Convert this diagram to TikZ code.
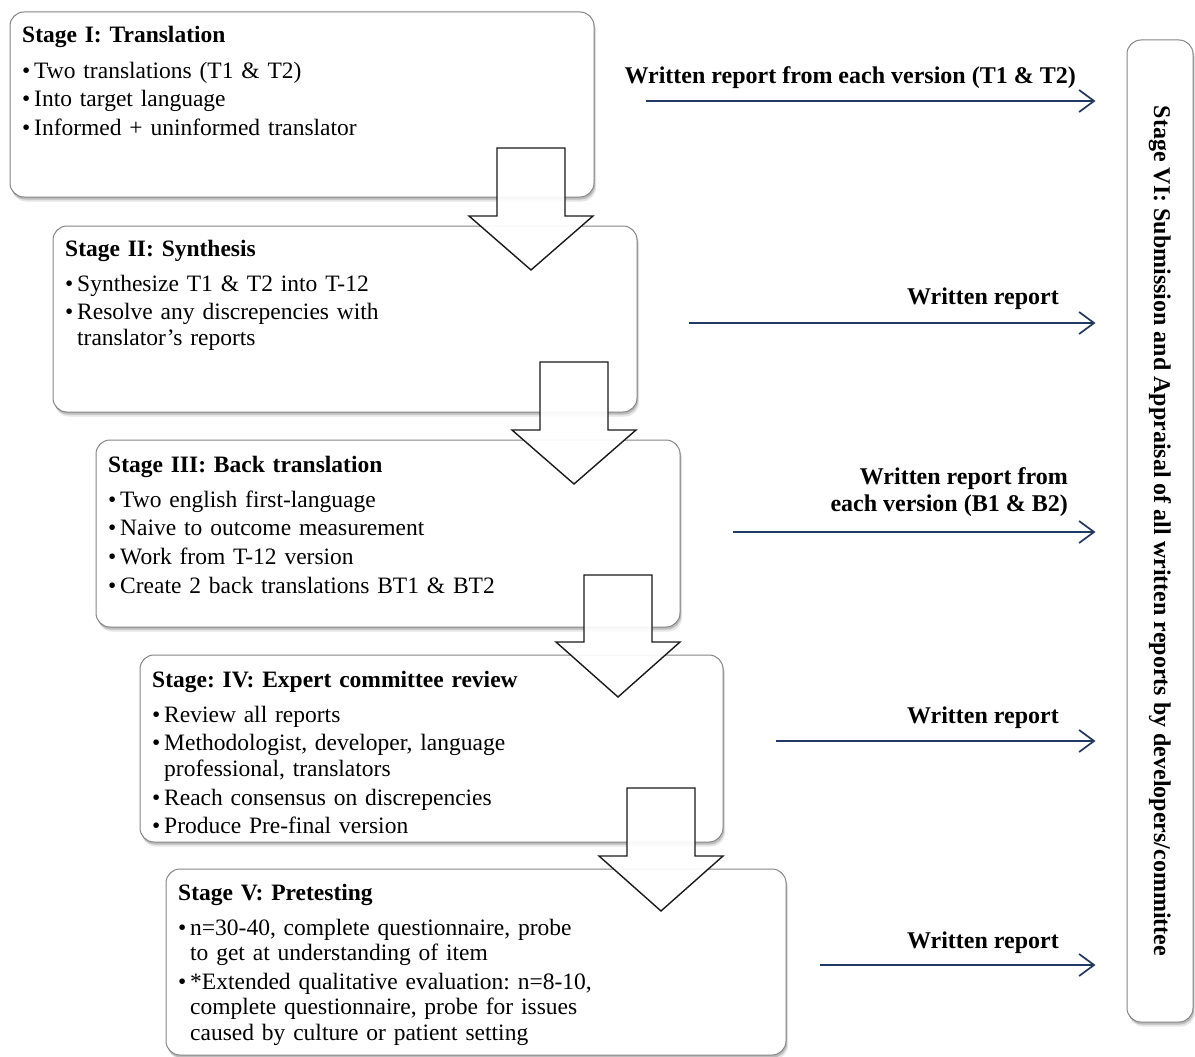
\documentclass[tikz,border=0pt]{standalone}
\usepackage{fontspec}
\setmainfont{Liberation Serif}
\usepackage{tikz}
\usetikzlibrary{
arrows.meta,
positioning,
shadows
}
\definecolor{StageGray}{HTML}{858585}
\definecolor{StageLine}{HTML}{1A1A1A}
\definecolor{ReportNavy}{HTML}{1F3864}

\frenchspacing
\newcommand{\stagehead}[1]{{\bfseries #1}\par\vspace{6.5pt}}
\newcommand{\stageitem}[1]{\par\vspace{3.2pt}{\hangindent=12pt\hangafter=1\noindent\makebox[12pt][l]{\textbullet}#1\par}}

\tikzset{
stagebox/.style={draw=StageGray, line width=1pt, fill=white, rounded corners=14pt, inner sep=0pt,
  general shadow={fill=black, opacity=0.10, shadow xshift=2pt, shadow yshift=-4.5pt},
  general shadow={fill=black, opacity=0.18, shadow xshift=1pt, shadow yshift=-2.5pt}},
stagetext/.style={anchor=base west, inner sep=0pt, text width=560pt, align=left,
  font=\fontsize{23.5}{25.5}\selectfont},
blockarrow/.style={draw=StageLine, line width=1.4pt, fill=white, fill opacity=0.92, line join=miter},
reportarrow/.style={draw=ReportNavy, line width=1.7pt, -{Straight Barb[length=15pt,width=22pt,line width=1.7pt]}},
reportlabel/.style={font=\fontsize{24}{27}\selectfont\bfseries, align=right, anchor=base east, inner sep=0pt}
}

\begin{document}
\begin{tikzpicture}[x=1pt,y=-1pt]
\useasboundingbox (0,0) rectangle (1195,1057);

\node[stagebox, minimum width=584pt, minimum height=185pt] (s1) at (302,104.5) {};
\node[stagebox, minimum width=584pt, minimum height=186pt] (s2) at (345,319) {};
\node[stagebox, minimum width=584pt, minimum height=187pt] (s3) at (388,533.5) {};
\node[stagebox, minimum width=583pt, minimum height=187pt] (s4) at (431.5,748.5) {};
\node[stagebox, minimum width=620pt, minimum height=186pt] (s5) at (476,962) {};
\node[stagebox, minimum width=66pt, minimum height=982pt] (s6) at (1160,531) {};

\node[stagetext] (t1) at (22,43) {\stagehead{Stage I: Translation}
\stageitem{Two translations (T1 \& T2)}
\stageitem{Into target language}
\stageitem{Informed + uninformed translator}};
\node[stagetext] (t2) at (65,256) {\stagehead{Stage II: Synthesis}
\stageitem{Synthesize T1 \& T2 into T-12}
\stageitem{Resolve any discrepencies with\newline translator's reports}};
\node[stagetext] (t3) at (108,472) {\stagehead{Stage III: Back translation}
\stageitem{Two english first-language}
\stageitem{Naive to outcome measurement}
\stageitem{Work from T-12 version}
\stageitem{Create 2 back translations BT1 \& BT2}};
\node[stagetext] (t4) at (152,687) {\stagehead{Stage: IV: Expert committee review}
\stageitem{Review all reports}
\stageitem{Methodologist, developer, language\newline professional, translators}
\stageitem{Reach consensus on discrepencies}
\stageitem{Produce Pre-final version}};
\node[stagetext] (t5) at (178,900) {\stagehead{Stage V: Pretesting}
\stageitem{n=30-40, complete questionnaire, probe\newline to get at understanding of item}
\stageitem{*Extended qualitative evaluation: n=8-10,\newline complete questionnaire, probe for issues\newline caused by culture or patient setting}};
\node[font=\fontsize{24}{27}\selectfont\bfseries, rotate=-90, inner sep=0pt] (t6) at (s6.center)
  {Stage VI: Submission and Appraisal of all written reports by developers/committee};

\draw[blockarrow] (497,148) -- (565,148) -- (565,216) -- (593,216) -- (531,270) -- (469,216) -- (497,216) -- cycle;
\draw[blockarrow] (540,362) -- (608,362) -- (608,430) -- (636,430) -- (574,484) -- (512,430) -- (540,430) -- cycle;
\draw[blockarrow] (584,575) -- (652,575) -- (652,642) -- (680,642) -- (618,697) -- (556,642) -- (584,642) -- cycle;
\draw[blockarrow] (627,788) -- (695,788) -- (695,856) -- (723,856) -- (661,911) -- (599,856) -- (627,856) -- cycle;

\coordinate (r1a) at (646,101);
\coordinate (r1b) at (s6.west |- r1a);
\coordinate (r2a) at (689,323);
\coordinate (r2b) at (s6.west |- r2a);
\coordinate (r3a) at (733,532);
\coordinate (r3b) at (s6.west |- r3a);
\coordinate (r4a) at (776,741);
\coordinate (r4b) at (s6.west |- r4a);
\coordinate (r5a) at (820,965);
\coordinate (r5b) at (s6.west |- r5a);

\draw[reportarrow, shorten >=31pt] (r1a) -- (r1b);
\draw[reportarrow, shorten >=31pt] (r2a) -- (r2b);
\draw[reportarrow, shorten >=31pt] (r3a) -- (r3b);
\draw[reportarrow, shorten >=31pt] (r4a) -- (r4b);
\draw[reportarrow, shorten >=31pt] (r5a) -- (r5b);

\node[reportlabel] (l1) at (1076,84) {Written report from each version (T1 \& T2)};
\node[reportlabel] (l2) at (1059,304) {Written report};
\node[reportlabel, anchor=south east] (l3) at (1068,517) {Written report from\\each version (B1 \& B2)};
\node[reportlabel] (l4) at (1059,723) {Written report};
\node[reportlabel] (l5) at (1059,948) {Written report};
\end{tikzpicture}
\end{document}
